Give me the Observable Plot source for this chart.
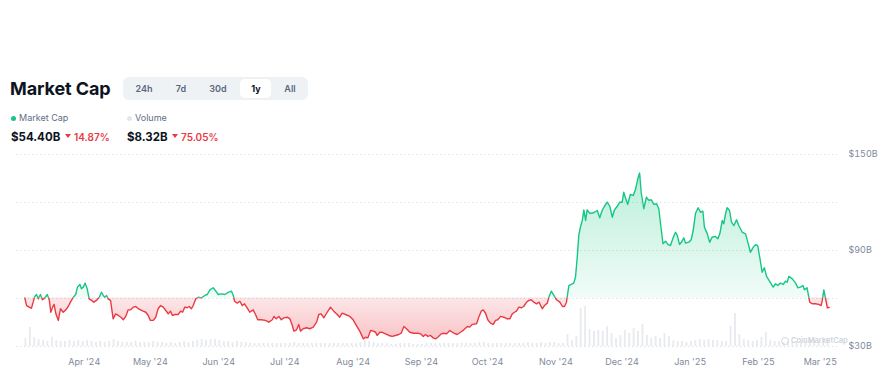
<!DOCTYPE html>
<html>
<head>
<meta charset="utf-8">
<script src="https://cdn.jsdelivr.net/npm/d3@7"></script>
<script src="https://cdn.jsdelivr.net/npm/@observablehq/plot@0.6"></script>
<style>
  html, body { margin: 0; padding: 0; background: #fff; }
  body { font-family: Inter, "Noto Sans", "DejaVu Sans", sans-serif; }
  #root { position: relative; width: 886px; height: 378px; overflow: hidden; background: #fff; }
  .abs { position: absolute; white-space: nowrap; }
  .title { left: 10px; top: 79px; font-size: 18px; line-height: 20px; font-weight: 700; color: #0d1421; letter-spacing: -0.1px; }
  .seg { left: 123px; top: 77px; width: 185px; height: 23px; background: #eff2f5; border-radius: 6px; }
  .pill { left: 240px; top: 79px; width: 31px; height: 19px; background: #fff; border-radius: 5px; }
  .btn { top: 82px; width: 30px; text-align: center; font-size: 9px; line-height: 13px; font-weight: 600; color: #58667e; }
  .btn.on { color: #0d1421; font-weight: 700; }
  .dot { width: 5px; height: 5px; border-radius: 50%; }
  .leg { font-size: 9px; line-height: 12px; color: #616e85; top: 112px; }
  .val { font-size: 11.5px; line-height: 14px; font-weight: 700; color: #0d1421; top: 130px; }
  .chg { font-size: 10px; line-height: 14px; font-weight: 600; color: #ea3943; top: 130px; }
  .tri { width: 0; height: 0; border-left: 3.5px solid transparent; border-right: 3.5px solid transparent; border-top: 4.5px solid #ea3943; top: 134px; }
  .plotlayer { position: absolute; left: 0; top: 140px; }
  .wm { left: 791px; top: 336px; font-size: 7.5px; line-height: 10px; font-weight: 600; color: #cfd4db; }
  .wmlogo { left: 781px; top: 337px; width: 6px; height: 6px; border: 1.2px solid #d3d8df; border-radius: 50%; }
</style>
</head>
<body>
<div id="root">
  <div class="abs title">Market Cap</div>
  <div class="abs seg"></div>
  <div class="abs pill"></div>
  <div class="abs btn" style="left:129px">24h</div>
  <div class="abs btn" style="left:166px">7d</div>
  <div class="abs btn" style="left:203px">30d</div>
  <div class="abs btn on" style="left:241px">1y</div>
  <div class="abs btn" style="left:275px">All</div>

  <div class="abs dot" style="left:11px;top:116px;background:#16c784"></div>
  <div class="abs leg" style="left:19px">Market Cap</div>
  <div class="abs dot" style="left:127px;top:116px;background:#e3e7ec"></div>
  <div class="abs leg" style="left:135px">Volume</div>

  <div class="abs val" style="left:11px">$54.40B</div>
  <div class="abs tri" style="left:65px"></div>
  <div class="abs chg" style="left:74px">14.87%</div>
  <div class="abs val" style="left:127px">$8.32B</div>
  <div class="abs tri" style="left:172px"></div>
  <div class="abs chg" style="left:181px">75.05%</div>

  <div id="vol" class="plotlayer"></div>
  <div class="abs wmlogo"></div>
  <div class="abs wm">CoinMarketCap</div>
  <div id="cap" class="plotlayer"></div>
</div>
<script>
// ---------- data ----------
const startDate = "2024-03-05";
// [days since start, market cap in $B]
const capPoints = [
[0.0,60.4],[0.8,55.6],[2.0,54.6],[3.0,53.9],[3.8,57.7],[4.5,61.3],[5.3,62.5],[6.1,59.8],[7.1,62.5],[8.0,59.2],
[9.1,60.4],[10.2,62.5],[11.1,59.2],[11.8,51.4],[12.6,54.6],[13.3,56.3],[14.1,50.4],[15.2,46.3],[16.2,53.6],[17.4,51.4],
[18.6,52.9],[19.7,55.0],[20.7,57.7],[22.0,60.8],[23.1,62.5],[23.9,67.1],[25.0,68.8],[25.7,66.1],[26.5,67.1],[27.4,69.6],
[28.3,66.1],[29.2,59.8],[30.3,58.8],[31.3,57.7],[32.5,58.8],[33.8,60.8],[34.8,63.9],[35.6,61.9],[36.3,60.8],[37.1,61.9],
[37.8,59.8],[38.9,58.8],[40.1,47.3],[41.2,50.4],[42.4,49.4],[43.6,48.3],[44.7,46.7],[45.8,48.8],[46.9,52.9],[48.0,52.9],
[49.2,54.6],[50.4,55.0],[51.5,53.6],[52.5,52.9],[53.7,52.1],[54.9,51.4],[56.0,49.4],[57.0,46.3],[58.3,46.3],[59.4,48.3],
[60.5,53.6],[61.6,55.6],[62.8,54.6],[64.0,52.5],[65.1,50.4],[66.1,52.1],[67.0,49.4],[68.1,50.0],[69.6,50.0],[70.7,52.1],
[71.6,51.4],[72.6,54.6],[73.7,54.2],[74.6,55.0],[75.6,53.6],[76.4,55.6],[77.6,59.8],[78.7,60.8],[80.2,60.4],[81.7,61.9],
[82.8,62.5],[84.0,65.4],[85.5,66.7],[86.7,64.6],[87.8,62.5],[89.3,62.9],[90.8,62.5],[92.3,63.8],[93.8,64.6],[94.6,61.9],
[95.2,58.3],[96.4,57.1],[97.6,58.3],[98.7,55.6],[99.7,56.7],[100.9,54.2],[102.1,51.4],[103.6,52.9],[104.7,50.0],[105.7,46.7],
[107.3,46.7],[109.2,46.3],[110.7,45.2],[112.3,46.7],[113.0,48.8],[114.1,47.3],[115.3,48.8],[116.4,46.7],[117.5,47.9],[119.1,48.3],
[120.3,47.3],[121.4,43.1],[122.1,39.6],[123.3,40.4],[124.3,43.8],[125.1,39.6],[126.3,41.1],[127.8,41.7],[129.3,41.1],[130.9,42.1],
[132.4,45.2],[133.4,50.0],[134.5,50.4],[135.7,47.9],[137.2,51.4],[138.7,54.6],[140.2,52.1],[141.8,50.0],[142.9,48.3],[144.0,50.8],
[145.5,50.0],[147.5,48.8],[149.0,46.7],[150.5,43.1],[152.0,39.6],[153.6,34.8],[154.6,35.8],[155.7,35.4],[156.9,40.0],[158.1,39.6],
[159.2,38.9],[159.9,36.9],[161.1,38.9],[162.2,38.9],[163.7,37.9],[165.2,36.9],[166.7,36.3],[168.2,36.9],[169.7,37.5],[170.8,38.3],
[172.0,42.5],[173.2,41.1],[174.7,38.9],[176.5,38.3],[178.3,38.3],[179.6,37.9],[180.8,36.3],[181.8,37.5],[182.9,36.3],[184.1,36.9],
[185.3,35.4],[186.4,34.8],[187.4,35.8],[189.0,37.9],[190.1,38.3],[191.4,37.9],[192.9,40.0],[194.7,38.3],[196.2,37.5],[197.7,38.9],
[199.2,40.4],[200.8,42.5],[201.9,42.1],[203.0,43.8],[205.0,44.2],[206.0,48.3],[207.1,52.1],[208.0,52.9],[209.1,50.8],[210.1,46.7],
[211.3,44.6],[212.6,43.8],[213.6,46.3],[214.6,46.7],[215.9,48.8],[217.4,48.3],[218.9,47.3],[220.1,47.3],[221.2,50.4],[222.2,51.4],
[223.1,52.1],[224.2,54.6],[225.3,54.2],[226.4,55.0],[227.7,57.7],[228.7,58.8],[229.8,59.2],[231.0,57.7],[232.2,56.7],[233.4,57.7],
[234.8,53.6],[235.8,55.6],[237.1,57.1],[237.8,60.8],[238.9,64.6],[240.1,61.9],[241.3,59.2],[242.8,57.7],[244.0,55.0],[244.9,55.0],
[245.8,57.7],[246.9,68.1],[248.0,68.8],[249.1,69.6],[249.9,73.3],[250.7,85.8],[251.4,99.4],[252.2,105.0],[253.0,108.8],[253.7,115.4],
[254.5,108.8],[255.2,115.4],[256.4,113.3],[257.5,113.3],[258.5,113.9],[259.8,115.0],[260.9,110.4],[262.0,115.0],[263.0,117.5],[264.3,120.2],
[265.5,117.5],[266.6,110.8],[267.6,115.4],[268.8,117.5],[270.0,120.2],[271.1,120.2],[271.8,126.4],[272.7,122.3],[273.6,118.8],[274.8,125.0],
[276.1,124.4],[277.1,127.9],[278.2,134.8],[279.0,138.4],[279.7,126.4],[280.9,116.1],[282.1,123.3],[283.2,121.3],[284.3,121.7],[285.5,118.8],
[286.7,119.2],[287.7,116.1],[288.5,106.7],[289.6,94.2],[290.8,95.8],[291.8,93.8],[293.0,93.1],[294.3,98.3],[295.3,101.4],[296.1,99.4],
[297.1,93.8],[298.0,95.2],[299.1,97.9],[299.8,94.6],[301.3,95.2],[302.4,96.7],[303.3,102.5],[304.4,113.3],[305.6,116.7],[306.6,113.9],
[307.7,114.6],[308.4,104.6],[309.7,100.4],[310.8,95.2],[311.9,98.3],[313.4,98.8],[314.5,97.3],[315.4,100.4],[316.5,108.8],[317.2,106.7],
[318.0,112.9],[318.7,116.7],[319.8,115.0],[320.7,107.7],[321.8,105.6],[323.0,109.2],[324.0,105.6],[325.6,101.4],[327.1,100.4],[328.1,95.2],
[329.3,88.9],[330.6,92.1],[331.6,93.6],[332.6,93.1],[333.5,85.8],[334.6,76.4],[335.6,79.2],[336.6,73.8],[337.6,71.7],[338.7,69.2],
[339.6,67.1],[340.7,69.2],[341.7,68.1],[342.9,69.6],[344.2,68.8],[345.2,70.8],[346.0,70.2],[346.7,73.8],[348.3,72.3],[349.8,69.6],
[350.8,66.7],[352.0,67.1],[353.1,68.1],[353.8,65.4],[355.0,66.7],[356.2,57.7],[357.3,56.7],[358.8,56.7],[360.3,56.3],[361.4,55.6],
[361.9,58.8],[362.6,65.4],[363.4,59.8],[364.2,54.2],[365.0,54.4]
];
// volume in $B, one value every 2 days from startDate
const volumeStepDays = 2;
const volumeValues = [
8,19,9,7,6,5,9,6,5,5, 6,5,6,5,6,5,4,5,4,5, 7,5,4,4,4,5,4,4,4,5, 4,4,3,4,3,4,5,4,5,6,
7,6,7,7,6,5,5,4,5,4, 4,3,3,3,3,3,3,3,3,3, 3,4,3,3,3,3,3,3,3,3, 3,3,3,3,3,3,4,7,5,4,
3,3,3,2,2,3,3,3,2,2, 2,3,3,3,3,3,3,3,3,3, 3,3,3,4,4,3,3,3,3,3, 3,3,3,3,4,3,3,4,3,4,
4,3,3,12,6,10,38,40,17,15, 16,15,20,13,8,11,16,13,18,15, 22,11,8,10,8,13,10,6,5,5,
4,5,6,7,6,7,6,6,5,5, 20,33,12,7,6,5,6,9,14,6, 5,5,4,5,4,5,4,5,6,6, 5,6,8
];
const gridValues = [30, 60, 90, 120, 150];
const yTickValues = [150, 90, 30];
const yTickLabels = ["$150B", "$90B", "$30B"];
const monthTicks = ["2024-04-01","2024-05-01","2024-06-01","2024-07-01","2024-08-01","2024-09-01",
                    "2024-10-01","2024-11-01","2024-12-01","2025-01-01","2025-02-01","2025-03-01"];
const monthLabels = ["Apr '24","May '24","Jun '24","Jul '24","Aug '24","Sep '24",
                     "Oct '24","Nov '24","Dec '24","Jan '25","Feb '25","Mar '25"];

// ---------- build ----------
const DAY = 864e5;
const t0 = new Date(startDate).getTime();
const cap = capPoints.map(([d, v]) => ({date: new Date(t0 + d * DAY), value: v}));
const vol = volumeValues.map((v, i) => ({date: new Date(t0 + i * volumeStepDays * DAY), value: v}));
const baselineValue = capPoints[0][1];
const monthDates = monthTicks.map(s => new Date(s));
const monthLabelByTime = new Map(monthDates.map((d, i) => [+d, monthLabels[i]]));
const yLabelByValue = new Map(yTickValues.map((v, i) => [v, yTickLabels[i]]));
const xDomain = [new Date(t0 - 3.77 * DAY), new Date(t0 + 368.8 * DAY)];

const W = 886, H = 238;
const GREEN = "#16c784", RED = "#ea3943";

const volPlot = Plot.plot({
  width: W, height: H, marginLeft: 16, marginRight: 49, marginTop: 146, marginBottom: 32,
  style: {background: "transparent", overflow: "visible"},
  x: {type: "utc", domain: xDomain, axis: null},
  y: {domain: [0, 60], axis: null},
  marks: [
    Plot.rectY(vol, {x1: "date", x2: d => new Date(+d.date + DAY), y: "value", fill: "#e7eaee", insetLeft: 0.2, insetRight: 0.2})
  ]
});
document.getElementById("vol").appendChild(volPlot);

const capPlot = Plot.plot({
  width: W, height: H, marginLeft: 16, marginRight: 49, marginTop: 14, marginBottom: 32,
  style: {background: "transparent", overflow: "visible", fontFamily: "Inter, 'Noto Sans', sans-serif", fontSize: "9px", color: "#808a9d"},
  x: {type: "utc", domain: xDomain, ticks: monthDates, tickFormat: d => monthLabelByTime.get(+d) ?? "", tickSize: 0, tickPadding: 12, label: null},
  y: {domain: [30, 150], axis: "right", ticks: yTickValues, tickFormat: d => yLabelByValue.get(d) ?? "", tickSize: 0, tickPadding: 11, label: null},
  marks: [
    Plot.ruleY(gridValues, {stroke: "#dfe2e7", strokeWidth: 1, strokeDasharray: "1.5,2.5"}),
    Plot.areaY(cap, {x: "date", y1: baselineValue, y2: "value", fill: "url(#capGreenGrad)", ariaDescription: "green-area"}),
    Plot.areaY(cap, {x: "date", y1: baselineValue, y2: "value", fill: "url(#capRedGrad)", ariaDescription: "red-area"}),
    Plot.lineY(cap, {x: "date", y: "value", stroke: GREEN, strokeWidth: 1.4, ariaDescription: "green-line"}),
    Plot.lineY(cap, {x: "date", y: "value", stroke: RED, strokeWidth: 1.4, ariaDescription: "red-line"})
  ]
});
document.getElementById("cap").appendChild(capPlot);

// gradients and clipping split at the baseline, positioned with Plot's y scale
const yS = capPlot.scale("y");
const yb = yS.apply(baselineValue);
const svg = d3.select(capPlot);
const defs = svg.insert("defs", ":first-child");
const gg = defs.append("linearGradient").attr("id", "capGreenGrad").attr("gradientUnits", "userSpaceOnUse")
  .attr("x1", 0).attr("x2", 0).attr("y1", yS.apply(140)).attr("y2", yb);
gg.append("stop").attr("offset", 0).attr("stop-color", GREEN).attr("stop-opacity", 0.30);
gg.append("stop").attr("offset", 1).attr("stop-color", GREEN).attr("stop-opacity", 0.06);
const gr = defs.append("linearGradient").attr("id", "capRedGrad").attr("gradientUnits", "userSpaceOnUse")
  .attr("x1", 0).attr("x2", 0).attr("y1", yb).attr("y2", yS.apply(34));
gr.append("stop").attr("offset", 0).attr("stop-color", RED).attr("stop-opacity", 0.12);
gr.append("stop").attr("offset", 1).attr("stop-color", RED).attr("stop-opacity", 0.30);
defs.append("clipPath").attr("id", "capAbove").append("rect")
  .attr("x", -10).attr("y", -10).attr("width", W + 20).attr("height", yb + 10);
defs.append("clipPath").attr("id", "capBelow").append("rect")
  .attr("x", -10).attr("y", yb).attr("width", W + 20).attr("height", H - yb + 10);
svg.select('g[aria-description="green-area"]').attr("clip-path", "url(#capAbove)");
svg.select('g[aria-description="green-line"]').attr("clip-path", "url(#capAbove)");
svg.select('g[aria-description="red-area"]').attr("clip-path", "url(#capBelow)");
svg.select('g[aria-description="red-line"]').attr("clip-path", "url(#capBelow)");
</script>
</body>
</html>
